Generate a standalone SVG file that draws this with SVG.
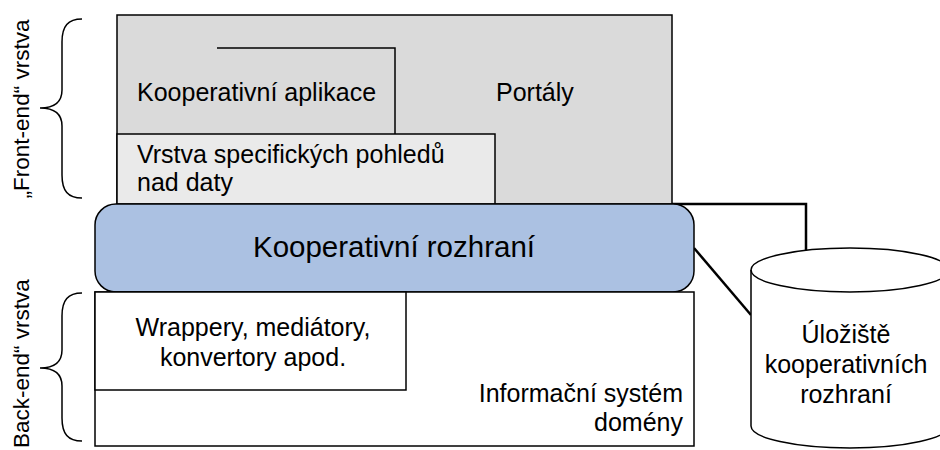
<svg xmlns="http://www.w3.org/2000/svg" width="940" height="450" viewBox="0 0 940 450">
<style>
  .t { font-family: "Liberation Sans", Arial, sans-serif; font-size: 25px; fill: #000; }
  .big { font-size: 29.5px; }
  .side { font-size: 22.5px; }
  .box { stroke: #000; stroke-width: 1.5; }
  .ln { fill: none; stroke: #000; stroke-width: 2.5; }
  .brace { fill: none; stroke: #000; stroke-width: 1.5; }
</style>
<rect width="940" height="450" fill="#fff"/>

<g id="front-brace">
  <path class="brace" d="M82,19 C68,19 62,26 62,42 L62,90 C62,102 54,108 40,108 C54,108 62,114 62,126 L62,175 C62,191 68,198 82,198"/>
  <text class="t side" transform="translate(29,109) rotate(-90)" text-anchor="middle">„Front-end“ vrstva</text>
</g>
<g id="back-brace">
  <path class="brace" d="M82,293 C68,293 62,300 62,316 L62,350 C62,362 54,368 40,368 C54,368 62,374 62,386 L62,418 C62,434 68,441 82,441"/>
  <text class="t side" transform="translate(29,448) rotate(-90)" text-anchor="start">Back-end“ vrstva</text>
</g>

<g id="portaly">
  <rect class="box" x="117" y="15" width="555" height="189" fill="#dadada"/>
  <text class="t" x="496" y="101">Portály</text>
</g>
<g id="kooperativni-aplikace">
  <polyline class="box" fill="none" points="217,48 395,48 395,134"/>
  <text class="t" x="137" y="101">Kooperativní aplikace</text>
</g>
<g id="vrstva">
  <rect class="box" x="117" y="134" width="378" height="70" fill="#eaeaea"/>
  <text class="t" x="137" y="163">Vrstva specifických pohledů</text>
  <text class="t" x="137" y="191">nad daty</text>
</g>

<g id="connectors">
  <polyline class="ln" points="672,204 806,204 806,251"/>
  <line class="ln" x1="694" y1="248" x2="751" y2="315"/>
</g>

<g id="kooperativni-rozhrani">
  <rect class="box" x="95" y="204" width="599" height="88" rx="21" ry="21" fill="#abc1e2"/>
  <text class="t big" x="394" y="257" text-anchor="middle">Kooperativní rozhraní</text>
</g>

<g id="informacni-system">
  <rect class="box" x="95" y="292" width="599" height="154" fill="#fff"/>
  <text class="t" x="683" y="402" text-anchor="end">Informační systém</text>
  <text class="t" x="683" y="431" text-anchor="end">domény</text>
</g>
<g id="wrappery">
  <rect class="box" x="95" y="292" width="311" height="98" fill="#fff"/>
  <text class="t" x="253" y="336" text-anchor="middle">Wrappery, mediátory,</text>
  <text class="t" x="253" y="366" text-anchor="middle">konvertory apod.</text>
</g>

<g id="uloziste">
  <path class="box" fill="#fff" d="M751,270 L751,426 A99,22 0 0 0 949,426 L949,270 A99,22 0 0 0 751,270 Z"/>
  <path class="box" fill="none" d="M751,270 A99,22 0 0 0 949,270"/>
  <text class="t" x="846" y="343" text-anchor="middle">Úložiště</text>
  <text class="t" x="846" y="373" text-anchor="middle">kooperativních</text>
  <text class="t" x="846" y="403" text-anchor="middle">rozhraní</text>
</g>
</svg>
